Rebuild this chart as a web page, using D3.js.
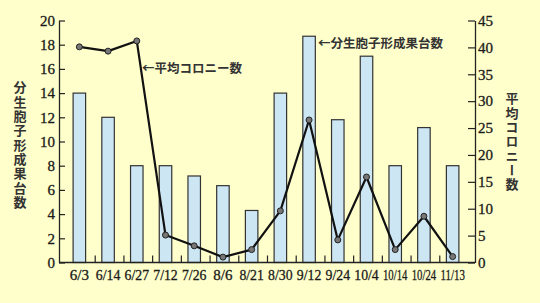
<!DOCTYPE html>
<html>
<head>
<meta charset="utf-8">
<script src="https://d3js.org/d3.v7.min.js"></script>
<style>
  body { margin:0; background:#ffffcc; }
  .num { font-family:"Liberation Serif", serif; font-size:14px; fill:#1a1a1a; }
  .jp  { font-family:"Noto Sans CJK JP", sans-serif; font-size:12.5px; font-weight:bold; fill:#333; }
</style>
</head>
<body>
<div id="chart"></div>
<script>

// dates, spore-forming fruit clusters (left axis), mean colonies (right axis)
var dates    = ["6/3","6/14","6/27","7/12","7/26","8/6","8/21","8/30","9/12","9/24","10/4","10/14","10/24","11/13"];
var fruits   = [14, 12, 8, 8, 7.15, 6.35, 4.3, 14, 18.7, 11.8, 17.05, 8, 11.15, 8];
var colonies = [40.1, 39.3, 41.2, 5.1, 3.1, 1.0, 2.4, 9.6, 26.5, 4.2, 15.9, 2.4, 8.6, 1.1];
var leftTicks  = [0,2,4,6,8,10,12,14,16,18,20];
var rightTicks = [0,5,10,15,20,25,30,35,40,45];

var W = 540, H = 303;
var svg = d3.select("#chart").append("svg")
            .attr("width", W).attr("height", H);

svg.append("rect").attr("width", W).attr("height", H).attr("fill", "#ffffcc");

var x = d3.scaleBand().domain(dates).range([66.5, 468.5]);
var yL = d3.scaleLinear().domain([0, 20]).range([262.5, 20.5]);
var yR = d3.scaleLinear().domain([0, 45]).range([262.5, 20.5]);

// bars
var bw = 12.5;
var cx = function(d) { return x(d) + x.bandwidth()/2 - 1.5; };

svg.selectAll(".bar")
   .data(dates)
   .enter()
   .append("rect")
   .attr("class", "bar")
   .attr("x", function(d) { return cx(d) - bw/2; })
   .attr("width", bw)
   .attr("y", function(d, i) { return yL(fruits[i]); })
   .attr("height", function(d, i) { return yL(0) - yL(fruits[i]); })
   .attr("fill", "#cde6f4")
   .attr("stroke", "#333")
   .attr("stroke-width", 1.2);

// axes
var leftAxis = svg.append("g")
   .attr("transform", "translate(59,0)")
   .call(d3.axisLeft(yL).tickValues(leftTicks).tickSizeInner(-6).tickSizeOuter(0).tickPadding(4));
var rightAxis = svg.append("g")
   .attr("transform", "translate(475,0)")
   .call(d3.axisRight(yR).tickValues(rightTicks).tickSizeInner(-7).tickSizeOuter(0).tickPadding(4));
[leftAxis, rightAxis].forEach(function(a) {
  a.select(".domain").attr("stroke", "#222").attr("stroke-width", 1.3);
  a.selectAll(".tick line").attr("stroke", "#222").attr("stroke-width", 1.2);
  a.selectAll("text").attr("class", "num").attr("fill", null)
   .style("font-size", "15px").style("stroke", "#1a1a1a").style("stroke-width", 0.3);
});
rightAxis.selectAll("text").attr("dx", "-1");

// x axis
svg.append("line")
   .attr("x1", 59).attr("x2", 475)
   .attr("y1", 262.5).attr("y2", 262.5)
   .attr("stroke", "#222").attr("stroke-width", 1.3);

svg.selectAll(".xtick")
   .data(dates.slice(1))
   .enter()
   .append("line")
   .attr("x1", function(d) { return x(d); })
   .attr("x2", function(d) { return x(d); })
   .attr("y1", 262.5).attr("y2", 255.5)
   .attr("stroke", "#222").attr("stroke-width", 1.2);

// date labels, squeezed horizontally like the original
svg.selectAll(".xlab")
   .data(dates)
   .enter()
   .append("text")
   .attr("class", "num")
   .attr("text-anchor", "middle")
   .style("font-size", "15px")
   .style("stroke", "#1a1a1a").style("stroke-width", 0.3)
   .text(function(d) { return d; })
   .attr("transform", function(d) {
     var w = this.getComputedTextLength();
     var s = d.length > 3 ? Math.min(1, 24.5 / w) : 1;
     return "translate(" + cx(d) + ",280) scale(" + s + ",1)";
   });

// colony line
var line = d3.line()
   .x(function(d, i) { return cx(dates[i]); })
   .y(function(d) { return yR(d); });

svg.append("path")
   .datum(colonies)
   .attr("d", line)
   .attr("fill", "none")
   .attr("stroke", "#111")
   .attr("stroke-width", 2.2)
   .attr("stroke-linejoin", "round");

svg.selectAll(".pt")
   .data(colonies)
   .enter()
   .append("circle")
   .attr("cx", function(d, i) { return cx(dates[i]); })
   .attr("cy", function(d) { return yR(d); })
   .attr("r", 3)
   .attr("fill", "#777")
   .attr("stroke", "#222")
   .attr("stroke-width", 1);

// annotations
svg.append("text").attr("class", "jp")
   .attr("x", 142).attr("y", 73)
   .text("←平均コロニー数");
svg.append("text").attr("class", "jp")
   .attr("x", 318).attr("y", 47.5)
   .text("←分生胞子形成果台数");

// vertical axis titles
function vtitle(str, xPos, yTop) {
  svg.append("text").attr("class", "jp")
     .attr("x", xPos).attr("y", yTop)
     .style("writing-mode", "vertical-rl")
     .style("letter-spacing", "1.3px")
     .style("font-size", "13px")
     .text(str);
}
vtitle("分生胞子形成果台数", 20, 81);
vtitle("平均コロニー数", 512, 92);

</script>
</body>
</html>
